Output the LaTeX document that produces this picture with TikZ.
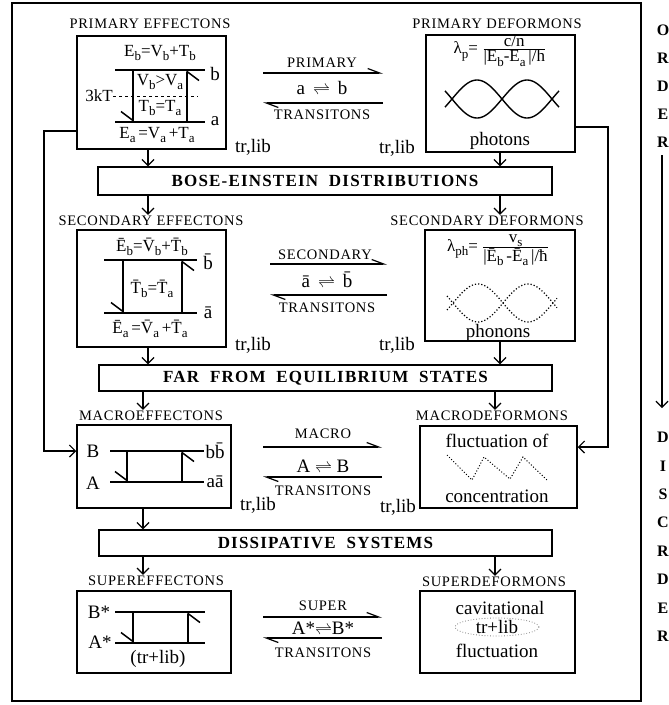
\documentclass[tikz,border=0pt]{standalone}
\usepackage{fontspec}
\setmainfont{Liberation Serif}
\newfontfamily\capsfont[LetterSpace=5]{Liberation Serif}
\newfontfamily\headfont[LetterSpace=7]{Liberation Serif}
\usetikzlibrary{arrows.meta}
\newcommand{\lowtxt}[1]{\raisebox{-0.25em}{\fontsize{13}{13}\selectfont #1}}

\begin{document}
\begin{tikzpicture}[x=1pt, y=-1pt,
    block/.style={draw, line width=1.5pt, inner sep=0pt},
    banner/.style={draw, line width=1.5pt, inner sep=0pt, font=\fontsize{17}{19}\headfont\bfseries},
    caption/.style={font=\fontsize{14.5}{16}\capsfont, inner sep=1pt},
    body/.style={font=\fontsize{19}{21}\selectfont, inner sep=0pt},
    small/.style={font=\fontsize{17}{19}\selectfont, inner sep=0pt},
    order/.style={font=\fontsize{16}{18}\selectfont\bfseries, inner sep=0pt},
    flow/.style={-{Straight Barb[length=6pt,width=12pt]}, line width=1.2pt},
    level/.style={line width=1.5pt},
    jump/.style={line width=1.5pt, -{Straight Barb[right,length=9pt,width=24pt]}},
    half/.style={line width=1.2pt, -{Straight Barb[left,length=12pt,width=9pt]}}]

    \useasboundingbox (0,0) rectangle (669,705);
    \draw[line width=1.3pt] (12,3) rectangle (641,701);

    \coordinate (lu) at (148,0);
    \coordinate (ld) at (143,0);
    \coordinate (ru) at (500,0);
    \coordinate (rd) at (495,0);

    \node[caption] (pet) at (150,24) {PRIMARY EFFECTONS};
    \node[block, minimum width=149, minimum height=113] (pe) at (151.5,92.5) {};
    \node[caption] (pdt) at (497,24) {PRIMARY DEFORMONS};
    \node[block, minimum width=149, minimum height=117] (pd) at (500.5,93.5) {};
    \node[banner, minimum width=454, minimum height=28] (be) at (325,181) {BOSE-EINSTEIN\ \ DISTRIBUTIONS};

    \node[caption] (set) at (151,221) {SECONDARY EFFECTONS};
    \node[block, minimum width=149, minimum height=117] (se) at (151.5,288.5) {};
    \node[caption] (sdt) at (487,221) {SECONDARY DEFORMONS};
    \node[block, minimum width=150, minimum height=111] (sd) at (500,285.5) {};
    \node[banner, minimum width=453, minimum height=26] (ffe) at (325.5,378) {FAR\ \ FROM\ \ EQUILIBRIUM\ \ STATES};

    \node[caption] (met) at (151,416) {MACROEFFECTONS};
    \node[block, minimum width=154, minimum height=83] (me) at (154,466.5) {};
    \node[caption] (mdt) at (492,416) {MACRODEFORMONS};
    \node[block, minimum width=157, minimum height=82] (md) at (498.5,467) {};
    \node[banner, minimum width=453, minimum height=26] (ds) at (325.5,543) {DISSIPATIVE\ \ SYSTEMS};

    \node[caption] (spet) at (156,581) {SUPEREFFECTONS};
    \node[block, minimum width=154, minimum height=82] (spe) at (154,632) {};
    \node[caption] (spdt) at (494,582) {SUPERDEFORMONS};
    \node[block, minimum width=155, minimum height=82] (spd) at (497.5,632) {};

    \draw[flow] (lu |- pe.south) -- (lu |- be.north);
    \draw[flow] (ru |- pd.south) -- (ru |- be.north);
    \draw[flow] (lu |- be.south) -- (lu |- set.north);
    \draw[flow] (ru |- be.south) -- (ru |- sdt.north);
    \draw[flow] (lu |- se.south) -- (lu |- ffe.north);
    \draw[flow] (ru |- sd.south) -- (ru |- ffe.north);
    \draw[flow] (ld |- ffe.south) -- (ld |- met.north);
    \draw[flow] (rd |- ffe.south) -- (rd |- mdt.north);
    \draw[flow] (ld |- me.south) -- (ld |- ds.north);
    \draw[flow] (ld |- ds.south) -- (ld |- spet.north);
    \draw[flow] (rd |- ds.south) -- (rd |- spdt.north);

    \coordinate (lt) at (44,131);
    \coordinate (lb) at (44,451);
    \draw[flow] (lt -| pe.west) -- (lt) -- (lb) -- (lb -| me.west);
    \coordinate (rt) at (608,127);
    \coordinate (rb) at (608,447);
    \draw[flow] (rt -| pd.east) -- (rt) -- (rb) -- (rb -| md.east);

    \node[small] (pebv) at (160,53) {E\lowtxt{b}=V\lowtxt{b}+T\lowtxt{b}};
    \draw[level] (115,70) -- (205,70);
    \draw[level] (115,122) -- (205,122);
    \draw[dashed, line width=1pt] (113,96) -- (198,96);
    \node[small, anchor=east] (pkt) at (113,96) {3kT};
    \node[body] (pb) at (215,74) {b};
    \node[body] (pa) at (215,121) {a};
    \draw[jump] (133,70) -- (133,122);
    \draw[jump] (187,122) -- (187,70);
    \node[small] (pvv) at (160,82) {V\lowtxt{b}>V\lowtxt{a}};
    \node[small] (ptt) at (160,108) {T\lowtxt{b}=T\lowtxt{a}};
    \node[small] (peav) at (157,135) {E\lowtxt{a}\,=V\lowtxt{a}\,+T\lowtxt{a}};
    \node[body] (petr) at (253,147) {tr,lib};

    \node[caption] (ptu) at (322,63) {PRIMARY};
    \draw[half] (263,73) -- (383,73);
    \node[body] (ptr) at (322,88) {a\, $\rightleftharpoons$\, b};
    \draw[half] (383,103) -- (263,103);
    \node[caption] (ptl) at (322,115) {TRANSITONS};

    \node[small] (plam) at (500,51) {λ\lowtxt{p}= $\frac{\mbox{c/n}}{\mbox{|E\lowtxt{b}-E\lowtxt{a}\,|/h}}$};
    \draw[line width=1.4pt, domain=445:559, samples=80, smooth] plot (\x, {99+19*sin(3.6*(\x-452))});
    \draw[line width=1.4pt, domain=445:559, samples=80, smooth] plot (\x, {99-19*sin(3.6*(\x-452))});
    \node[body] (pph) at (500,141) {photons};
    \node[body] (pdtr) at (397,148) {tr,lib};

    \node[small] (sebv) at (152,247) {Ē\lowtxt{b}=V̄\lowtxt{b}+T̄\lowtxt{b}};
    \draw[level] (104,260) -- (197,260);
    \draw[level] (104,313) -- (197,313);
    \node[body] (sb) at (208,262) {b̄};
    \node[body] (sa) at (208,313) {ā};
    \draw[jump] (123,260) -- (123,313);
    \draw[jump] (182,313) -- (182,260);
    \node[small] (stt) at (152,289) {T̄\lowtxt{b}=T̄\lowtxt{a}};
    \node[small] (seav) at (150,329) {Ē\lowtxt{a}\,=V̄\lowtxt{a}\,+T̄\lowtxt{a}};
    \node[body] (setr) at (253,345) {tr,lib};

    \node[caption] (stu) at (325,255) {SECONDARY};
    \draw[half] (270,264) -- (387,264);
    \node[body] (str) at (327,280) {ā\, $\rightleftharpoons$\, b̄};
    \draw[half] (387,295) -- (270,295);
    \node[caption] (stl) at (327,308) {TRANSITONS};

    \node[small] (slam) at (498,250) {λ\lowtxt{ph}= $\frac{\mbox{v\lowtxt{s}}}{\mbox{|Ē\lowtxt{b}\,-Ē\lowtxt{a}\,|/ħ}}$};
    \draw[dotted, line width=1.2pt, domain=447:557, samples=80, smooth] plot (\x, {303+19*sin(3.6*(\x-453))});
    \draw[dotted, line width=1.2pt, domain=447:557, samples=80, smooth] plot (\x, {303-19*sin(3.6*(\x-453))});
    \node[body] (sph) at (498,333) {phonons};
    \node[body] (sdtr) at (397,345) {tr,lib};

    \node[body] (mB) at (93,451) {B};
    \node[body] (mA) at (93,483) {A};
    \draw[level] (110,451) -- (204,451);
    \draw[level] (110,482) -- (204,482);
    \node[body] (mb) at (215,451) {bb̄};
    \node[body] (ma) at (215,482) {aā};
    \draw[jump] (127,451) -- (127,482);
    \draw[jump] (182,482) -- (182,451);
    \node[body] (metr) at (258,505) {tr,lib};

    \node[caption] (mtu) at (323,434) {MACRO};
    \draw[half] (263,447) -- (382,447);
    \node[body] (mtr) at (323,466) {A $\rightleftharpoons$ B};
    \draw[half] (382,477) -- (263,477);
    \node[caption] (mtl) at (323,491) {TRANSITONS};
    \node[body] (mdtr) at (398,507) {tr,lib};

    \node[body] (mfl) at (497,441) {fluctuation of};
    \draw[dotted, line width=1pt] (447,455) -- (472,480) -- (484,457) -- (510,479) -- (523,457) -- (547,480);
    \node[body] (mco) at (497,496) {concentration};

    \node[body] (sB) at (99,612) {B*};
    \node[body] (sA) at (100,642) {A*};
    \draw[level] (115,612) -- (205,612);
    \draw[level] (115,643) -- (205,643);
    \draw[jump] (133,612) -- (133,643);
    \draw[jump] (188,643) -- (188,612);
    \node[body] (strl) at (158,659) {(tr+lib)};

    \node[caption] (sptu) at (323,606) {SUPER};
    \draw[half] (263,617) -- (382,617);
    \node[body] (sptr) at (323,628) {A*$\rightleftharpoons$B*};
    \draw[half] (382,638) -- (263,638);
    \node[caption] (sptl) at (323,653) {TRANSITONS};

    \node[body] (scav) at (500,608) {cavitational};
    \node[body] (strlib) at (497,627) {tr+lib};
    \draw[gray, dotted, line width=0.8pt] (strlib) ellipse [x radius=42, y radius=9];
    \node[body] (sfl) at (497,651) {fluctuation};

    \foreach \ch [count=\i] in {O,R,D,E,R}
        \node[order] (up\i) at (663,{2+28*\i}) {\ch};
    \foreach \ch [count=\i] in {D,I,S,C,R,D,E,R}
        \node[order] (dn\i) at (663,{409+28.4*\i}) {\ch};
    \draw[flow] (662,155) -- (662,408);
\end{tikzpicture}
\end{document}
